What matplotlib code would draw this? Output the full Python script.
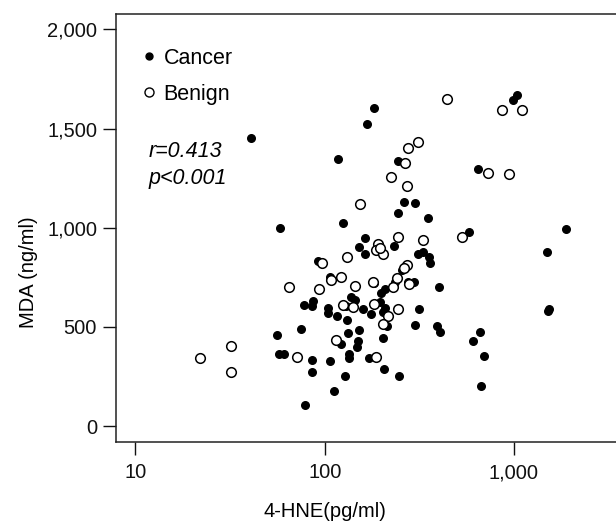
import numpy as np
import matplotlib
matplotlib.use('Agg')
import matplotlib.pyplot as plt
from matplotlib.ticker import FuncFormatter, NullLocator, FixedLocator
from matplotlib.lines import Line2D

plt.rcParams['font.family'] = ['Liberation Sans', 'DejaVu Sans']

# Cancer (filled)
cancer_hne = [40.7, 182, 167, 117, 243, 262, 299, 243, 125, 58, 351, 1879, 578, 163, 151,
              163, 232, 1493, 310, 330, 355, 359, 92, 265, 255, 106, 182, 198, 208, 234,
              275, 296, 401, 1528, 1510, 78, 86.5, 85.5, 104, 104, 116, 129, 137, 144, 159,
              131, 175, 195, 208, 203, 213, 314, 299, 391, 405, 75, 56, 132, 151, 122,
              150, 148, 203, 661, 607, 57, 61, 85.5, 106, 134, 134, 171, 205, 247, 85.5,
              128, 693, 112, 78.5, 668, 1035, 986, 644]
cancer_mda = [1454, 1605, 1524, 1348, 1338, 1132, 1126, 1076, 1026, 1001, 1051, 996, 981, 950, 905,
              870, 910, 880, 870, 880, 855, 824, 834, 804, 789, 754, 719, 673, 689, 729,
              729, 724, 699, 588, 578, 613, 633, 603, 593, 568, 553, 608, 653, 638, 588,
              537, 563, 628, 593, 573, 507, 588, 512, 507, 472, 492, 457, 467, 482, 416,
              427, 401, 442, 472, 427, 361, 361, 331, 326, 361, 341, 341, 286, 255, 275,
              250, 351, 175, 104, 200, 1670, 1645, 1298]

# Benign (open)
benign_hne = [442, 863, 1107, 310, 275, 265, 223, 272, 728, 940, 153, 531, 243, 330, 191,
              186, 203, 195, 131, 97, 272, 262, 108, 122, 65, 93, 144, 180, 229, 240,
              279, 125, 141, 182, 215, 243, 203, 114.5, 71, 186, 32, 22, 32]
benign_mda = [1650, 1592, 1592, 1434, 1403, 1328, 1258, 1212, 1278, 1273, 1121, 955, 955, 940, 920,
              890, 870, 900, 855, 824, 814, 799, 739, 754, 699, 689, 704, 729, 699, 749,
              714, 613, 598, 618, 553, 588, 517, 432, 346, 346, 406, 341, 273]

y_ticks = [0, 500, 1000, 1500, 2000]
x_ticks = [10, 100, 1000]

fig = plt.figure(figsize=(6.16, 5.23), dpi=100)
ax = fig.add_axes([0.188, 0.155, 0.812, 0.819])

ax.scatter(cancer_hne, cancer_mda, s=30, color='black', zorder=2)
ax.scatter(benign_hne, benign_mda, s=48, facecolor='white', edgecolor='black',
           linewidth=1.1, zorder=3)

ax.set_xscale('log')
ax.set_xlim(7.87, 3460)
ax.set_ylim(-80, 2080)
ax.xaxis.set_major_locator(FixedLocator(x_ticks))
ax.xaxis.set_minor_locator(NullLocator())
ax.set_yticks(y_ticks)
fmt = FuncFormatter(lambda v, p: '{:,.0f}'.format(v))
ax.xaxis.set_major_formatter(fmt)
ax.yaxis.set_major_formatter(fmt)

for s in ['left', 'bottom', 'top']:
    ax.spines[s].set_linewidth(1.1)
    ax.spines[s].set_color('#222222')
ax.spines['right'].set_visible(False)
ax.tick_params(direction='out', length=9.5, width=1.0, labelsize=14.5, pad=4,
               colors='#111111')
ax.tick_params(axis='x', pad=6)

ax.set_xlabel('4-HNE(pg/ml)', fontsize=14.5)
ax.set_ylabel('MDA (ng/ml)', fontsize=14.5)
ax.xaxis.set_label_coords(0.418, -0.140)
ax.yaxis.set_label_coords(-0.155, 0.397)

handles = [Line2D([], [], marker='o', ls='', color='black', markersize=5),
           Line2D([], [], marker='o', ls='', markerfacecolor='white',
                  markeredgecolor='black', markeredgewidth=1.0, markersize=6.5)]
ax.legend(handles, ['Cancer', 'Benign'], loc='upper left', frameon=False,
          fontsize=15.5, handlelength=0.8, handletextpad=0.25, labelspacing=0.7,
          bbox_to_anchor=(0.02, 0.955), borderaxespad=0.3)

ax.text(0.066, 0.677, 'r=0.413', transform=ax.transAxes, fontsize=15.5,
        style='italic', va='center', ha='left')
ax.text(0.066, 0.616, 'p<0.001', transform=ax.transAxes, fontsize=15.5,
        style='italic', va='center', ha='left')

fig.savefig('out.png', dpi=100)
